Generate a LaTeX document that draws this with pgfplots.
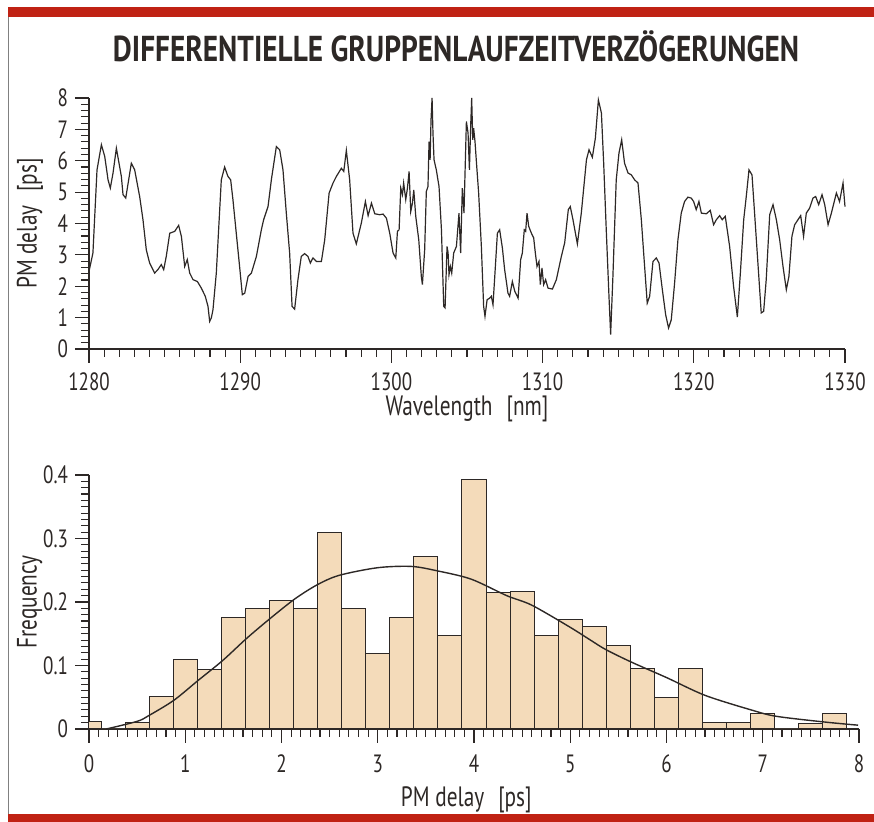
\documentclass[border=0pt]{standalone}
\usepackage{fontspec}
\setmainfont{PT Sans}[FakeStretch=0.76]
\usepackage{graphicx}
\usepackage{pgfplots}
\pgfplotsset{compat=1.18}

\definecolor{frame}{RGB}{192,34,20}
\definecolor{barfill}{RGB}{244,219,186}
\definecolor{ink}{RGB}{45,40,38}

\pgfplotsset{
  panel/.style={
    scale only axis,
    axis x line=bottom, axis y line=left,
    axis line style={-, ink, line width=0.7pt},
    tick align=outside,
    major tick length=7pt, minor tick length=4pt,
    tick style={ink, line width=0.55pt},
    tick label style={font=\fontsize{12.5}{12.5}\selectfont, text=ink},
    label style={font=\fontsize{14}{14}\selectfont, text=ink},
    /pgf/number format/assume math mode=true,
    /pgf/number format/1000 sep={},
    enlargelimits=false, clip=false,
  },
}

\begin{document}
\begin{tikzpicture}
  % page and frame
  \path (0pt,0pt) rectangle (437pt,411pt);
  \fill[frame] (4pt,402.5pt) rectangle (437pt,407.5pt);
  \fill[frame] (4pt,0pt) rectangle (437pt,4pt);
  \draw[gray, line width=0.5pt] (4.2pt,4pt) -- (4.2pt,402.5pt);
  \node[text=ink] at (228pt,388pt)
    {\resizebox{343pt}{\height}{\fontsize{18}{18}\selectfont\bfseries DIFFERENTIELLE GRUPPENLAUFZEITVERZÖGERUNGEN}};

  % delay vs wavelength
  \begin{axis}[
    panel,
    at={(44.5pt,236.5pt)}, anchor=south west,
    width=378pt, height=125.5pt,
    xmin=1280, xmax=1330, ymin=0, ymax=8,
    xtick={1280,1290,...,1330}, minor x tick num=9,
    ytick={0,1,...,8}, minor y tick num=4,
    xticklabel style={yshift=-1.5pt},
    xlabel={Wavelength\enspace[nm]},
    ylabel={PM delay\enspace[ps]},
    xlabel style={at={(axis description cs:0.5,0)}, anchor=center, yshift=-30pt},
    ylabel style={at={(axis description cs:-0.078,0.5)}, anchor=center},
  ]
  \addplot[ink, line width=0.6pt] coordinates {
    (1280.00,2.47) (1280.26,3.06) (1280.53,5.71) (1280.82,6.51) (1281.04,6.14)
    (1281.26,5.39) (1281.41,5.13) (1281.59,5.61) (1281.81,6.40) (1282.14,5.50)
    (1282.25,4.92) (1282.43,4.81) (1282.80,5.92) (1283.02,5.71) (1283.35,4.86)
    (1283.57,4.12) (1283.79,3.16) (1284.01,2.74) (1284.34,2.42) (1284.56,2.53)
    (1284.78,2.69) (1284.94,2.53) (1285.11,2.95) (1285.34,3.69) (1285.67,3.75)
    (1285.93,3.94) (1286.11,3.59) (1286.33,2.63) (1286.50,2.85) (1286.66,2.42)
    (1286.88,2.21) (1287.17,2.15) (1287.43,1.94) (1287.69,1.68) (1287.87,1.36)
    (1287.98,0.88) (1288.09,0.99) (1288.20,1.25) (1288.42,2.42) (1288.75,5.39)
    (1288.97,5.80) (1289.19,5.50) (1289.37,5.39) (1289.52,4.76) (1289.74,3.69)
    (1289.96,2.63) (1290.14,1.73) (1290.30,1.78) (1290.52,2.31) (1290.74,2.42)
    (1291.07,2.95) (1291.40,3.80) (1291.55,4.12) (1291.84,4.54) (1292.06,5.39)
    (1292.39,6.45) (1292.61,6.35) (1292.83,5.71) (1293.05,4.33) (1293.27,3.06)
    (1293.43,1.36) (1293.60,1.27) (1293.82,2.21) (1294.04,2.95) (1294.26,3.04)
    (1294.48,2.95) (1294.64,2.74) (1294.81,2.90) (1295.04,2.79) (1295.37,2.79)
    (1295.59,3.48) (1295.88,4.97) (1296.14,5.29) (1296.36,5.50) (1296.69,5.76)
    (1296.85,5.66) (1297.02,6.33) (1297.24,5.39) (1297.46,3.69) (1297.68,3.35)
    (1298.01,4.01) (1298.28,4.70) (1298.46,4.25) (1298.68,4.65) (1298.90,4.31)
    (1299.23,4.28) (1299.45,4.30) (1299.67,4.17) (1299.89,3.69) (1300.11,3.06)
    (1300.29,2.90) (1300.40,3.75) (1300.51,3.80) (1300.62,5.13) (1300.73,4.92)
    (1300.81,5.29) (1300.95,4.76) (1301.06,5.13) (1301.17,5.66) (1301.28,4.38)
    (1301.39,4.65) (1301.48,5.07) (1301.61,4.23) (1301.81,3.48) (1301.98,2.31)
    (1302.05,2.05) (1302.20,3.16) (1302.31,5.02) (1302.42,5.18) (1302.49,6.61)
    (1302.56,6.03) (1302.62,7.30) (1302.69,8.00) (1302.75,6.88) (1302.82,6.03)
    (1302.97,5.71) (1303.15,5.18) (1303.31,3.80) (1303.46,1.36) (1303.55,1.31)
    (1303.68,3.27) (1303.75,3.06) (1303.81,2.37) (1303.90,2.63) (1303.99,2.42)
    (1304.12,3.06) (1304.30,3.27) (1304.47,4.33) (1304.58,3.06) (1304.69,5.13)
    (1304.80,4.33) (1304.96,7.25) (1305.07,6.88) (1305.16,5.71) (1305.25,7.20)
    (1305.31,8.00) (1305.38,6.67) (1305.44,7.04) (1305.53,6.61) (1305.62,5.98)
    (1305.77,4.97) (1305.95,3.27) (1306.10,1.36) (1306.19,1.04) (1306.33,1.57)
    (1306.50,1.62) (1306.61,1.68) (1306.72,1.41) (1306.85,2.42) (1307.01,3.69)
    (1307.16,3.80) (1307.34,3.22) (1307.49,2.53) (1307.71,1.78) (1307.82,1.68)
    (1308.00,2.15) (1308.16,1.84) (1308.38,1.62) (1308.55,2.85) (1308.66,3.06)
    (1308.79,3.80) (1308.88,3.75) (1308.97,4.33) (1309.08,3.91) (1309.26,3.69)
    (1309.41,3.54) (1309.52,3.06) (1309.63,2.63) (1309.76,2.79) (1309.85,2.05)
    (1309.96,2.58) (1310.07,2.05) (1310.20,2.21) (1310.36,1.94) (1310.65,1.91)
    (1310.91,2.21) (1311.24,2.95) (1311.46,3.38) (1311.70,4.44) (1311.83,4.54)
    (1312.01,4.12) (1312.30,3.35) (1312.56,4.33) (1312.90,6.03) (1313.07,6.35)
    (1313.29,6.11) (1313.49,6.72) (1313.69,7.94) (1313.89,7.52) (1314.04,5.92)
    (1314.21,3.80) (1314.39,1.68) (1314.50,0.46) (1314.65,2.31) (1314.87,5.39)
    (1315.05,6.24) (1315.23,6.67) (1315.42,5.92) (1315.65,5.61) (1315.87,5.55)
    (1316.09,5.39) (1316.31,5.29) (1316.53,4.12) (1316.70,2.95) (1316.92,1.46)
    (1317.08,1.68) (1317.30,2.79) (1317.52,2.90) (1317.70,2.74) (1317.92,1.89)
    (1318.14,1.09) (1318.33,0.67) (1318.51,0.93) (1318.73,2.10) (1318.95,3.48)
    (1319.17,4.33) (1319.39,4.70) (1319.61,4.84) (1319.83,4.81) (1319.99,4.70)
    (1320.16,4.44) (1320.34,4.70) (1320.50,4.33) (1320.83,4.31) (1321.09,4.42)
    (1321.31,3.96) (1321.49,4.12) (1321.71,4.25) (1321.88,4.12) (1322.08,4.23)
    (1322.37,3.27) (1322.63,2.00) (1322.88,1.02) (1323.08,2.42) (1323.30,4.12)
    (1323.47,4.86) (1323.65,5.71) (1323.85,5.55) (1324.02,4.33) (1324.24,2.74)
    (1324.46,1.15) (1324.62,1.20) (1324.79,2.21) (1325.02,4.28) (1325.24,4.60)
    (1325.46,4.12) (1325.68,3.48) (1325.90,2.63) (1326.12,1.89) (1326.29,2.31)
    (1326.49,3.59) (1326.67,3.96) (1326.89,4.12) (1327.07,4.25) (1327.26,3.59)
    (1327.44,4.33) (1327.66,4.49) (1327.88,4.81) (1328.06,4.86) (1328.26,4.60)
    (1328.48,4.92) (1328.66,4.60) (1328.88,3.96) (1329.10,4.33) (1329.43,4.97)
    (1329.64,4.70) (1329.87,5.29) (1330.00,4.54)
  };
  \end{axis}

  % histogram
  \begin{axis}[
    panel,
    at={(44.5pt,46.5pt)}, anchor=south west,
    width=385pt, height=127pt,
    xmin=0, xmax=8, ymin=0, ymax=0.4,
    xtick={0,1,...,8}, minor x tick num=9,
    ytick={0,0.1,...,0.4}, minor y tick num=9,
    yticklabel style={/pgf/number format/fixed},
    xticklabel style={yshift=-2.5pt},
    xlabel={PM delay\enspace[ps]},
    ylabel={Frequency},
    xlabel style={at={(axis description cs:0.49,0)}, anchor=center, yshift=-35.5pt},
    ylabel style={at={(axis description cs:-0.077,0.5)}, anchor=center},
  ]
  \addplot[ybar interval, fill=barfill, draw=ink, line width=0.5pt] coordinates {
    (0.000,0.012) (0.125,0.000) (0.375,0.011) (0.625,0.051) (0.875,0.109)
    (1.125,0.093) (1.375,0.175) (1.625,0.189) (1.875,0.203) (2.125,0.189)
    (2.375,0.310) (2.625,0.189) (2.875,0.119) (3.125,0.175) (3.375,0.272)
    (3.625,0.148) (3.875,0.393) (4.125,0.215) (4.375,0.216) (4.625,0.148)
    (4.875,0.173) (5.125,0.162) (5.375,0.132) (5.625,0.095) (5.875,0.050)
    (6.125,0.095) (6.375,0.010) (6.625,0.010) (6.875,0.024) (7.125,0.000)
    (7.375,0.009) (7.625,0.024) (7.875,0.000)
  };
  \addplot[ink, line width=0.7pt, smooth] coordinates {
    (0.18,0.000) (0.50,0.012) (0.62,0.021) (0.88,0.045) (1.13,0.076)
    (1.39,0.108) (1.64,0.143) (1.89,0.175) (2.14,0.205) (2.37,0.227)
    (2.60,0.242) (3.00,0.254) (3.35,0.256) (3.62,0.249) (3.97,0.236)
    (4.34,0.210) (4.60,0.195) (4.99,0.161) (5.21,0.140) (5.37,0.125)
    (5.64,0.105) (6.00,0.081) (6.40,0.053) (6.88,0.030) (7.14,0.020)
    (7.64,0.011) (7.99,0.006)
  };
  \end{axis}
\end{tikzpicture}
\end{document}
